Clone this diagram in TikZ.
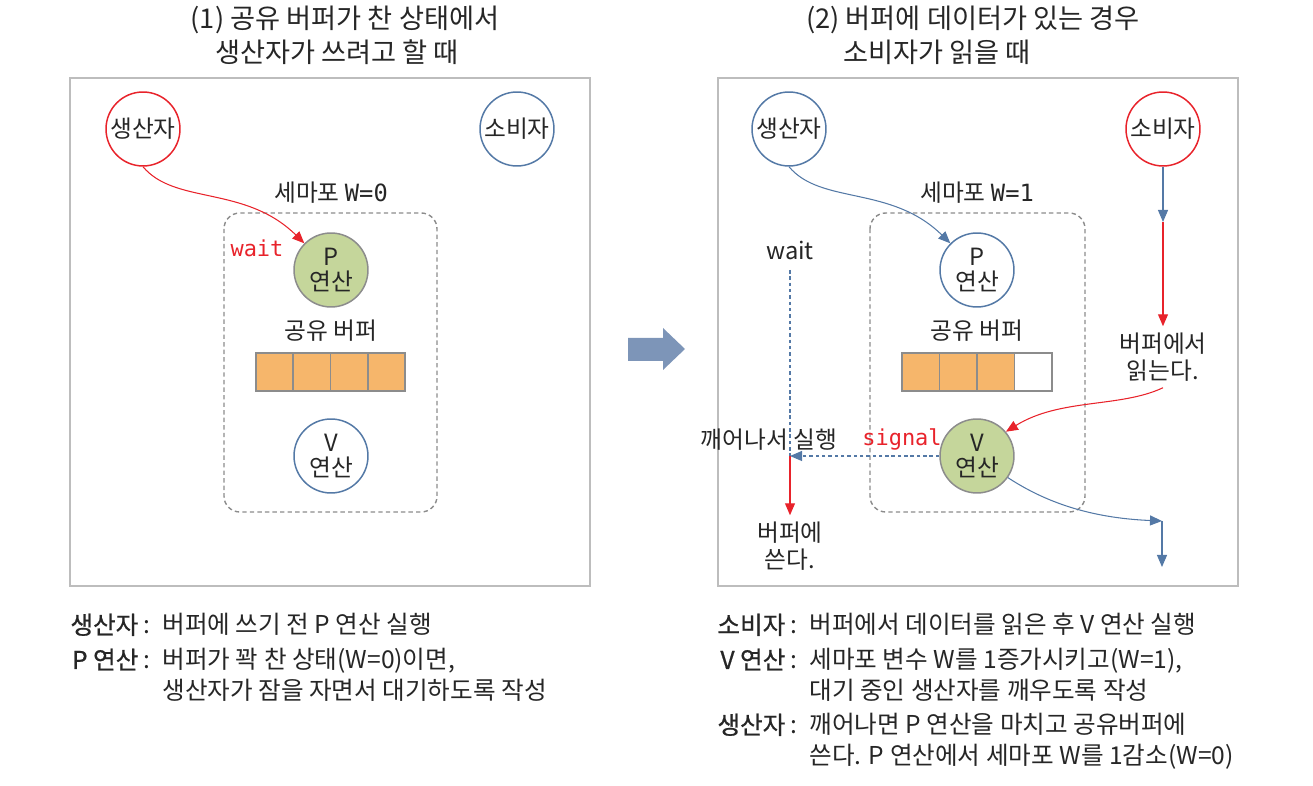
\documentclass[tikz,border=0pt]{standalone}
\usepackage{fontspec}
\setmainfont{Noto Sans CJK KR}
\newfontfamily\monofont{DejaVu Sans Mono}
\newfontfamily\headfont{Noto Sans CJK KR}[FakeBold=0.8]
\usetikzlibrary{arrows.meta}

\definecolor{semred}{HTML}{E8232B}
\definecolor{semblue}{HTML}{5479A6}
\definecolor{semgreen}{HTML}{C5D69B}
\definecolor{semorange}{HTML}{F6B66B}
\definecolor{semgray}{HTML}{8C8C8C}
\definecolor{semframe}{HTML}{BDBDBD}
\definecolor{semarrow}{HTML}{7D95B8}
\definecolor{semtext}{HTML}{262626}

\begin{document}
\begin{tikzpicture}[x=0.02cm,y=-0.02cm,line width=0.6pt,
  >={Triangle[length=2.4mm,width=2mm]},
  every node/.style={text=semtext},
  frame/.style={draw=semframe,line width=1.1pt},
  proc/.style={circle,draw=semblue,line width=0.85pt,minimum size=1.48cm,inner sep=0pt,
    align=center,font=\fontsize{13.5}{15}\selectfont},
  active/.style={draw=semred},
  oper/.style={proc,draw=semgray,fill=semgreen},
  semabox/.style={draw=semgray,dash pattern=on 2.5pt off 1.8pt,line width=0.8pt,rounded corners=9pt},
  finedash/.style={dash pattern=on 2pt off 1.6pt},
  cell/.style={draw=semgray,line width=0.9pt},
  lbl/.style={font=\fontsize{13.5}{15.5}\selectfont,align=center},
  code/.style={font=\monofont\fontsize{12.5}{14}\selectfont},
  title/.style={font=\fontsize{15.5}{18}\selectfont},
  note/.style={font=\fontsize{14}{16}\selectfont,anchor=base west,inner sep=0pt},
  notehead/.style={font=\fontsize{14}{16}\selectfont,anchor=base east,inner sep=0pt}]
  \useasboundingbox (0,0) rectangle (1313,786);

  % (1) buffer full, producer writes
  \node[title] (t1a) at (345,20) {(1) 공유 버퍼가 찬 상태에서};
  \node[title] (t1b) at (337,52) {생산자가 쓰려고 할 때};
  \draw[frame] (70,78) rectangle (590,586);
  \draw[semabox] (224,213) rectangle (437,512);
  \node[lbl] (semL) at (331,193) {세마포 {\monofont W=0}};
  \node[proc,active] (prodL) at (143,129) {생산자};
  \node[proc] (consL) at (517,129) {소비자};
  \node[oper] (pL) at (331,270) {P\\[-1pt]연산};
  \node[code,text=semred] (waitL) at (257,248) {wait};
  \node[lbl] (bufL) at (331,331) {공유 버퍼};
  \foreach \i in {0,...,3}
    \draw[cell,fill=semorange] (256+\i*37.25,353) rectangle ++(37.25,38);
  \node[proc] (vL) at (331,456) {V\\[-1pt]연산};
  \draw[->,semred] (prodL.south) .. controls (175,205) and (245,185) .. (pL.135);

  % arrow between the two states
  \fill[semarrow] (628,338) -- (663,338) -- (663,328) -- (685,349)
    -- (663,370) -- (663,361) -- (628,361) -- cycle;

  % (2) data in buffer, consumer reads
  \node[title] (t2a) at (973,20) {(2) 버퍼에 데이터가 있는 경우};
  \node[title] (t2b) at (937,52) {소비자가 읽을 때};
  \draw[frame] (718,78) rectangle (1238,586);
  \draw[semabox] (870,213) rectangle (1085,512);
  \node[lbl] (semR) at (977,193) {세마포 {\monofont W=1}};
  \node[proc] (prodR) at (789,129) {생산자};
  \node[proc,active] (consR) at (1163,129) {소비자};
  \node[proc] (pR) at (977,270) {P\\[-1pt]연산};
  \node[lbl] (bufR) at (977,331) {공유 버퍼};
  \foreach \i in {0,...,3}{
    \ifnum\i<3 \def\cellfill{semorange}\else \def\cellfill{white}\fi
    \draw[cell,fill=\cellfill] (902+\i*37.5,353) rectangle ++(37.5,38);
  }
  \node[oper] (vR) at (977,456) {V\\[-1pt]연산};
  \node[lbl] (waitR) at (790,250) {wait};
  \node[lbl] (wakeR) at (769,440) {깨어나서 실행};
  \node[code,text=semred] (sigR) at (902,439) {signal};
  \node[lbl] (writeR) at (790,546) {버퍼에\\쓴다.};
  \node[lbl] (readR) at (1163,357) {버퍼에서\\읽는다.};
  \coordinate (sleepR) at (790,270);
  \coordinate (runR) at (790,456);
  \coordinate (takeR) at (1163,222);
  \coordinate (outR) at (1162,521);
  \coordinate (endR) at (1162,567);
  \draw[->,semblue] (prodR.south) .. controls (821,205) and (891,185) .. (pR.135);
  \draw[semblue,finedash] (sleepR) -- (runR);
  \draw[->,semblue,finedash] (vR.west) -- (runR);
  \draw[->,semred] (runR) -- (writeR.north);
  \draw[->,semblue] (consR.south) -- (takeR);
  \draw[->,semred] (takeR) -- (readR.north);
  \draw[->,semred] (readR.south) .. controls (1120,408) and (1060,398) .. (vR.40);
  \draw[->,semblue] (vR.-35) .. controls (1045,502) and (1090,518) .. (outR);
  \draw[->,semblue] (outR) -- (endR);

  % notes under the pictures
  \node[notehead] (n1h) at (151,634) {{\headfont 생산자}\hspace{3pt}:};
  \node[note] (n1) at (162,634) {버퍼에 쓰기 전 P 연산 실행};
  \node[notehead] (n2h) at (151,669) {{\headfont P 연산}\hspace{3pt}:};
  \node[note] (n2) at (162,669) {버퍼가 꽉 찬 상태(W=0)이면,};
  \node[note] (n2b) at (162,700) {생산자가 잠을 자면서 대기하도록 작성};
  \node[notehead] (n3h) at (798,634) {{\headfont 소비자}\hspace{3pt}:};
  \node[note] (n3) at (809,634) {버퍼에서 데이터를 읽은 후 V 연산 실행};
  \node[notehead] (n4h) at (798,669) {{\headfont V 연산}\hspace{3pt}:};
  \node[note] (n4) at (809,669) {세마포 변수 W를 1증가시키고(W=1),};
  \node[note] (n4b) at (809,700) {대기 중인 생산자를 깨우도록 작성};
  \node[notehead] (n5h) at (798,734) {{\headfont 생산자}\hspace{3pt}:};
  \node[note] (n5) at (809,734) {깨어나면 P 연산을 마치고 공유버퍼에};
  \node[note] (n5b) at (809,765) {쓴다. P 연산에서 세마포 W를 1감소(W=0)};
\end{tikzpicture}
\end{document}
